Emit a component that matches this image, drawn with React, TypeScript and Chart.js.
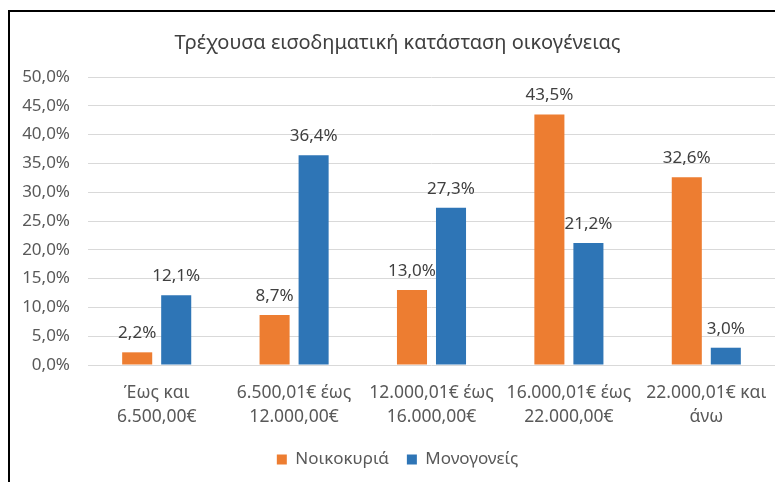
import React, { useEffect, useRef } from "react";
import { Chart, registerables } from "chart.js";

Chart.register(...registerables);

const title = "Τρέχουσα εισοδηματική κατάσταση οικογένειας";
const categories: string[][] = [
  ["Έως και", "6.500,00€"],
  ["6.500,01€ έως", "12.000,00€"],
  ["12.000,01€ έως", "16.000,00€"],
  ["16.000,01€ έως", "22.000,00€"],
  ["22.000,01€ και", "άνω"],
];
const seriesNames = ["Νοικοκυριά", "Μονογονείς"];
const households = [2.2, 8.7, 13.0, 43.5, 32.6];
const singleParents = [12.1, 36.4, 27.3, 21.2, 3.0];
const colors = ["#ED7D31", "#2E75B6"];
const yMax = 50;
const yStep = 5;

const fmt = (v: number) => v.toFixed(1).replace(".", ",") + "%";
const FONT = "'Noto Sans', sans-serif";

const dataLabels = {
  id: "dataLabels",
  afterDatasetsDraw(chart: any) {
    const ctx = chart.ctx;
    ctx.save();
    ctx.font = `17px ${FONT}`;
    ctx.fillStyle = "#404040";
    ctx.textAlign = "center";
    ctx.textBaseline = "middle";
    chart.data.datasets.forEach((ds: any, di: number) => {
      const meta = chart.getDatasetMeta(di);
      meta.data.forEach((el: any, i: number) => {
        ctx.fillText(fmt(ds.data[i]), el.x, el.y - 19);
      });
    });
    ctx.restore();
  },
};

export default function App() {
  const ref = useRef<HTMLCanvasElement>(null);
  useEffect(() => {
    if (!ref.current) return;
    const chart = new Chart(ref.current, {
      type: "bar",
      data: {
        labels: categories,
        datasets: [
          { label: seriesNames[0], data: households, backgroundColor: colors[0] },
          { label: seriesNames[1], data: singleParents, backgroundColor: colors[1] },
        ],
      },
      options: {
        responsive: false,
        animation: false,
        layout: { padding: { left: 10, right: 0, top: 0, bottom: 4 } },
        datasets: { bar: { categoryPercentage: 0.568, barPercentage: 0.77 } },
        plugins: {
          title: {
            display: true,
            text: title,
            color: "#404040",
            font: { family: FONT, size: 20, weight: "normal", lineHeight: 1.2 },
            padding: { top: 19, bottom: 22 },
          },
          legend: {
            position: "bottom",
            labels: {
              boxWidth: 10,
              boxHeight: 10,
              padding: 18,
              color: "#595959",
              font: { family: FONT, size: 17 },
            },
          },
          tooltip: { enabled: false },
        },
        scales: {
          x: {
            grid: { display: false, drawTicks: false },
            border: { display: false },
            ticks: {
              color: "#595959",
              font: { family: FONT, size: 17.5, lineHeight: 1.37 },
              padding: 16,
              maxRotation: 0,
              autoSkip: false,
            },
            afterFit(scale: any) {
              scale.height = 68;
              scale.paddingLeft = 0;
              scale.paddingRight = 0;
            },
          },
          y: {
            min: 0,
            max: yMax,
            grid: { color: "#d9d9d9", lineWidth: 1, drawTicks: false },
            border: { display: false },
            ticks: {
              stepSize: yStep,
              color: "#595959",
              font: { family: FONT, size: 17 },
              padding: 18,
              callback: (v: any) => fmt(Number(v)),
            },
            afterFit(scale: any) {
              scale.width = 68;
            },
          },
        },
      },
      plugins: [dataLabels],
    } as any);
    return () => chart.destroy();
  }, []);
  return (
    <div style={{ position: "fixed", left: 8, top: 8, paddingTop: 2, width: 767, height: 474, boxSizing: "border-box" }}>
      <div
        style={{
          width: 767,
          height: 472,
          boxSizing: "border-box",
          borderTop: "2px solid #000",
          borderLeft: "2px solid #000",
          background: "#fff",
        }}
      >
        <canvas ref={ref} width={765} height={470} style={{ display: "block" }} />
      </div>
    </div>
  );
}
